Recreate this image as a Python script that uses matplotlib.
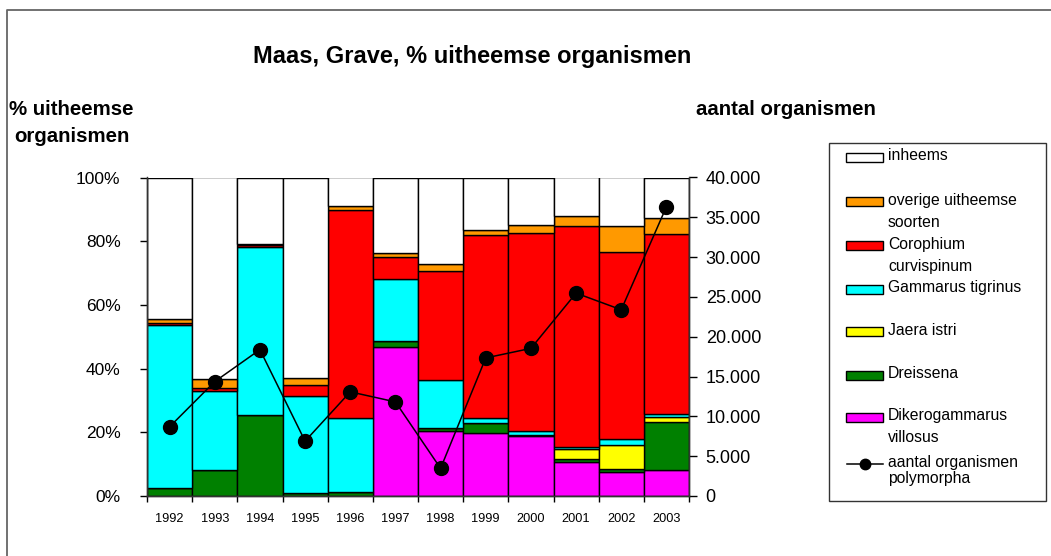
import matplotlib
matplotlib.use('Agg')
import matplotlib.pyplot as plt
import numpy as np
from matplotlib.patches import Rectangle
from matplotlib.lines import Line2D
from matplotlib.ticker import FuncFormatter

plt.rcParams['font.family'] = ['Liberation Sans', 'DejaVu Sans']

# data (% of organisms per year, stacked bottom -> top)
years = ['1992', '1993', '1994', '1995', '1996', '1997',
         '1998', '1999', '2000', '2001', '2002', '2003']
dikerogammarus = [0, 0, 0, 0, 0, 46.8, 20.5, 19.7, 18.7, 10.7, 7.6, 8.1]
dreissena = [2.6, 8.1, 25.5, 0.9, 1.4, 1.9, 0.7, 3.1, 0.3, 0.9, 0.8, 15.0]
jaera = [0, 0, 0, 0, 0, 0, 0, 0, 0, 3.1, 7.7, 1.8]
gammarus = [51.0, 25.0, 52.6, 30.6, 23.1, 19.5, 15.1, 1.7, 1.5, 0.8, 1.8, 0.9]
corophium = [0.6, 0.9, 0.7, 3.4, 65.2, 6.8, 34.4, 57.3, 62.2, 69.4, 58.8, 56.4]
overige = [1.5, 2.6, 0.4, 2.2, 1.5, 1.4, 2.1, 1.6, 2.5, 3.1, 8.2, 5.1]
aantal = [8690, 14370, 18380, 6890, 13080, 11820,
          3470, 17340, 18540, 25480, 23390, 36330]

series = [
    ('Dikerogammarus', dikerogammarus, '#FF00FF'),
    ('Dreissena', dreissena, '#008000'),
    ('Jaera istri', jaera, '#FFFF00'),
    ('Gammarus tigrinus', gammarus, '#00FFFF'),
    ('Corophium', corophium, '#FF0000'),
    ('overige', overige, '#FF9900'),
]

W, H = 1051, 556
fig = plt.figure(figsize=(W / 100, H / 100), dpi=100)
ax = fig.add_axes([147 / W, 1 - 496 / H, (689 - 147) / W, (496 - 177.5) / H])
ax2 = ax.twinx()

x = np.arange(len(years))
bottom = np.zeros(len(years))
for name, vals, col in series:
    vals = np.array(vals, dtype=float)
    ax.bar(x, vals, width=1.0, bottom=bottom, color=col,
           edgecolor='black', linewidth=1.0)
    bottom += vals
inheems = 100 - bottom
ax.bar(x, inheems, width=1.0, bottom=bottom, color='white',
       edgecolor='black', linewidth=1.0)

ax2.plot(x, aantal, color='black', lw=1.1, marker='o', ms=10)

ax.set_xlim(-0.5, len(years) - 0.5)
ax.set_ylim(0, 100)
ax2.set_ylim(0, 40000)
ax.set_yticks(range(0, 101, 20))
ax.yaxis.set_major_formatter(FuncFormatter(lambda v, p: f'{int(v)}%'))
ax2.set_yticks(range(0, 40001, 5000))
ax2.yaxis.set_major_formatter(
    FuncFormatter(lambda v, p: f'{int(v):,}'.replace(',', '.')))

ax.set_xticks(np.arange(-0.5, len(years), 1))
ax.set_xticklabels([])
ax.set_xticks(x, minor=True)
ax.set_xticklabels(years, minor=True, fontsize=9.2)
ax.tick_params(axis='x', which='major', direction='out', length=4, width=1)
ax.tick_params(axis='x', which='minor', length=0, pad=12)
ax.tick_params(axis='y', direction='out', length=5, width=1, pad=14, labelsize=12.5)
ax2.tick_params(axis='y', direction='out', length=6, width=1, pad=6, labelsize=13)

for a in (ax, ax2):
    a.spines['top'].set_visible(False)
    for s in ('left', 'right', 'bottom'):
        a.spines[s].set_linewidth(1.0)
        a.spines[s].set_color('#333333')

# overlay in pixel coordinates for frame, titles and legend
ov = fig.add_axes([0, 0, 1, 1], zorder=-1)
ov.set_xlim(0, W)
ov.set_ylim(H, 0)
ov.axis('off')
ov.patch.set_visible(False)

ov.plot([7, 7, W], [H, 10, 10], color='#666666', lw=1.3)

ov.text(472, 63, 'Maas, Grave, % uitheemse organismen', ha='center',
        va='baseline', fontsize=17, fontweight='bold')
ov.text(71, 115, '% uitheemse', ha='center', va='baseline',
        fontsize=14.7, fontweight='bold')
ov.text(72, 142.5, 'organismen', ha='center', va='baseline',
        fontsize=14.7, fontweight='bold')
ov.text(786, 115, 'aantal organismen', ha='center', va='baseline',
        fontsize=14.7, fontweight='bold')

# legend box
ov.add_patch(Rectangle((829, 143), 217, 358, fill=False,
                       edgecolor='#333333', lw=1.0))

legend_items = [
    ('#FFFFFF', ['inheems'], 157.5),
    ('#FF9900', ['overige uitheemse', 'soorten'], 201.7),
    ('#FF0000', ['Corophium', 'curvispinum'], 245.7),
    ('#00FFFF', ['Gammarus tigrinus'], 289.3),
    ('#FFFF00', ['Jaera istri'], 331.7),
    ('#008000', ['Dreissena'], 375),
    ('#FF00FF', ['Dikerogammarus', 'villosus'], 417.3),
]
for col, lines, yc in legend_items:
    ov.add_patch(Rectangle((846, yc - 4.5), 36.5, 9, facecolor=col,
                           edgecolor='black', lw=1.0))
    for i, t in enumerate(lines):
        ov.text(888, yc + 3 + 22 * i, t, ha='left', va='baseline', fontsize=11.3)

ov.add_line(Line2D([847, 883], [464, 464], color='black', lw=1.1))
ov.plot([865], [464], marker='o', color='black', ms=7.5)
ov.text(888, 466.7, 'aantal organismen', ha='left', va='baseline', fontsize=11.3)
ov.text(888, 483.3, 'polymorpha', ha='left', va='baseline', fontsize=11.3)

fig.savefig('out.png', dpi=100)
